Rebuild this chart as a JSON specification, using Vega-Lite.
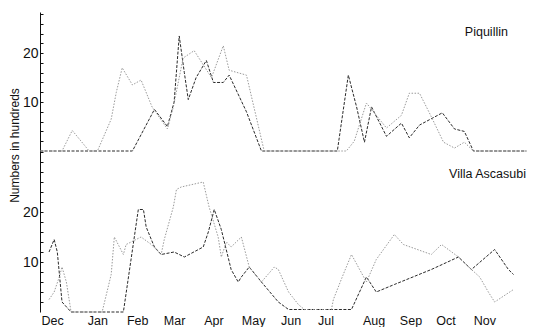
{
  "$schema": "https://vega.github.io/schema/vega-lite/v6.json",
  "padding": {"left": 8, "top": 12, "right": 5, "bottom": 0},
  "spacing": 0,
  "bounds": "flush",
  "background": "white",
  "config": {
    "view": {"stroke": null},
    "font": "Liberation Sans",
    "axis": {"grid": false, "domainColor": "#111", "tickColor": "#111", "labelColor": "#111", "titleColor": "#111", "labelFont": "Liberation Sans", "titleFont": "Liberation Sans"}
  },
  "datasets": {
    "counts": [
      {"site": "Piquillin", "series": "a", "m": -0.31, "v": 0},
      {"site": "Piquillin", "series": "a", "m": 2.04, "v": 0},
      {"site": "Piquillin", "series": "a", "m": 2.6, "v": 8.5},
      {"site": "Piquillin", "series": "a", "m": 2.93, "v": 5},
      {"site": "Piquillin", "series": "a", "m": 3.1, "v": 10},
      {"site": "Piquillin", "series": "a", "m": 3.23, "v": 23.5},
      {"site": "Piquillin", "series": "a", "m": 3.36, "v": 16},
      {"site": "Piquillin", "series": "a", "m": 3.46, "v": 10.5},
      {"site": "Piquillin", "series": "a", "m": 3.66, "v": 15},
      {"site": "Piquillin", "series": "a", "m": 3.92, "v": 18.5},
      {"site": "Piquillin", "series": "a", "m": 4.1, "v": 14},
      {"site": "Piquillin", "series": "a", "m": 4.35, "v": 14},
      {"site": "Piquillin", "series": "a", "m": 4.5, "v": 15.5},
      {"site": "Piquillin", "series": "a", "m": 4.94, "v": 8},
      {"site": "Piquillin", "series": "a", "m": 5.32, "v": 0},
      {"site": "Piquillin", "series": "a", "m": 7.25, "v": 0},
      {"site": "Piquillin", "series": "a", "m": 7.53, "v": 15.5},
      {"site": "Piquillin", "series": "a", "m": 7.74, "v": 9},
      {"site": "Piquillin", "series": "a", "m": 7.94, "v": 1.8},
      {"site": "Piquillin", "series": "a", "m": 8.12, "v": 9},
      {"site": "Piquillin", "series": "a", "m": 8.5, "v": 3},
      {"site": "Piquillin", "series": "a", "m": 8.88, "v": 5.7},
      {"site": "Piquillin", "series": "a", "m": 9.08, "v": 2.7},
      {"site": "Piquillin", "series": "a", "m": 9.34, "v": 5.3},
      {"site": "Piquillin", "series": "a", "m": 9.92, "v": 7.8},
      {"site": "Piquillin", "series": "a", "m": 10.23, "v": 4.5},
      {"site": "Piquillin", "series": "a", "m": 10.48, "v": 4},
      {"site": "Piquillin", "series": "a", "m": 10.71, "v": 0},
      {"site": "Piquillin", "series": "a", "m": 12.06, "v": 0},
      {"site": "Piquillin", "series": "b", "m": -0.31, "v": 0},
      {"site": "Piquillin", "series": "b", "m": 0.25, "v": 0},
      {"site": "Piquillin", "series": "b", "m": 0.51, "v": 4.2},
      {"site": "Piquillin", "series": "b", "m": 0.94, "v": 0},
      {"site": "Piquillin", "series": "b", "m": 1.15, "v": 0},
      {"site": "Piquillin", "series": "b", "m": 1.5, "v": 6.5},
      {"site": "Piquillin", "series": "b", "m": 1.63, "v": 12},
      {"site": "Piquillin", "series": "b", "m": 1.78, "v": 17},
      {"site": "Piquillin", "series": "b", "m": 2.04, "v": 13.5},
      {"site": "Piquillin", "series": "b", "m": 2.26, "v": 14.5},
      {"site": "Piquillin", "series": "b", "m": 2.54, "v": 9},
      {"site": "Piquillin", "series": "b", "m": 2.93, "v": 4.5},
      {"site": "Piquillin", "series": "b", "m": 3.08, "v": 9},
      {"site": "Piquillin", "series": "b", "m": 3.33, "v": 19},
      {"site": "Piquillin", "series": "b", "m": 3.61, "v": 20.5},
      {"site": "Piquillin", "series": "b", "m": 4.05, "v": 15},
      {"site": "Piquillin", "series": "b", "m": 4.35, "v": 21.5},
      {"site": "Piquillin", "series": "b", "m": 4.5, "v": 16.5},
      {"site": "Piquillin", "series": "b", "m": 4.94, "v": 15.5},
      {"site": "Piquillin", "series": "b", "m": 5.39, "v": 0},
      {"site": "Piquillin", "series": "b", "m": 7.48, "v": 0},
      {"site": "Piquillin", "series": "b", "m": 7.68, "v": 2},
      {"site": "Piquillin", "series": "b", "m": 7.99, "v": 9.8},
      {"site": "Piquillin", "series": "b", "m": 8.17, "v": 8},
      {"site": "Piquillin", "series": "b", "m": 8.5, "v": 4.7},
      {"site": "Piquillin", "series": "b", "m": 8.88, "v": 7.3},
      {"site": "Piquillin", "series": "b", "m": 9.08, "v": 11.8},
      {"site": "Piquillin", "series": "b", "m": 9.34, "v": 11.8},
      {"site": "Piquillin", "series": "b", "m": 9.64, "v": 7},
      {"site": "Piquillin", "series": "b", "m": 9.95, "v": 1.8},
      {"site": "Piquillin", "series": "b", "m": 10.23, "v": 0.6},
      {"site": "Piquillin", "series": "b", "m": 10.48, "v": 1.8},
      {"site": "Piquillin", "series": "b", "m": 10.71, "v": 0},
      {"site": "Piquillin", "series": "b", "m": 12.06, "v": 0},
      {"site": "Villa Ascasubi", "series": "a", "m": -0.08, "v": 12},
      {"site": "Villa Ascasubi", "series": "a", "m": 0.05, "v": 14.5},
      {"site": "Villa Ascasubi", "series": "a", "m": 0.13, "v": 12},
      {"site": "Villa Ascasubi", "series": "a", "m": 0.25, "v": 2},
      {"site": "Villa Ascasubi", "series": "a", "m": 0.48, "v": 0},
      {"site": "Villa Ascasubi", "series": "a", "m": 1.81, "v": 0},
      {"site": "Villa Ascasubi", "series": "a", "m": 2.19, "v": 20.5},
      {"site": "Villa Ascasubi", "series": "a", "m": 2.32, "v": 20.5},
      {"site": "Villa Ascasubi", "series": "a", "m": 2.39, "v": 17},
      {"site": "Villa Ascasubi", "series": "a", "m": 2.52, "v": 14.5},
      {"site": "Villa Ascasubi", "series": "a", "m": 2.6, "v": 13},
      {"site": "Villa Ascasubi", "series": "a", "m": 2.77, "v": 11.5},
      {"site": "Villa Ascasubi", "series": "a", "m": 3.1, "v": 12},
      {"site": "Villa Ascasubi", "series": "a", "m": 3.36, "v": 11},
      {"site": "Villa Ascasubi", "series": "a", "m": 3.84, "v": 13},
      {"site": "Villa Ascasubi", "series": "a", "m": 3.97, "v": 16},
      {"site": "Villa Ascasubi", "series": "a", "m": 4.12, "v": 20.5},
      {"site": "Villa Ascasubi", "series": "a", "m": 4.3, "v": 16.5},
      {"site": "Villa Ascasubi", "series": "a", "m": 4.55, "v": 8.5},
      {"site": "Villa Ascasubi", "series": "a", "m": 4.73, "v": 6},
      {"site": "Villa Ascasubi", "series": "a", "m": 4.81, "v": 7},
      {"site": "Villa Ascasubi", "series": "a", "m": 5.01, "v": 9},
      {"site": "Villa Ascasubi", "series": "a", "m": 5.32, "v": 6},
      {"site": "Villa Ascasubi", "series": "a", "m": 5.75, "v": 2},
      {"site": "Villa Ascasubi", "series": "a", "m": 6.01, "v": 0.5},
      {"site": "Villa Ascasubi", "series": "a", "m": 7.61, "v": 0.5},
      {"site": "Villa Ascasubi", "series": "a", "m": 7.99, "v": 7},
      {"site": "Villa Ascasubi", "series": "a", "m": 8.24, "v": 4},
      {"site": "Villa Ascasubi", "series": "a", "m": 8.7, "v": 5.5},
      {"site": "Villa Ascasubi", "series": "a", "m": 9.64, "v": 8.5},
      {"site": "Villa Ascasubi", "series": "a", "m": 10.33, "v": 11},
      {"site": "Villa Ascasubi", "series": "a", "m": 10.66, "v": 8.5},
      {"site": "Villa Ascasubi", "series": "a", "m": 11.25, "v": 12.5},
      {"site": "Villa Ascasubi", "series": "a", "m": 11.6, "v": 8.5},
      {"site": "Villa Ascasubi", "series": "a", "m": 11.73, "v": 7.5},
      {"site": "Villa Ascasubi", "series": "b", "m": -0.08, "v": 2.5},
      {"site": "Villa Ascasubi", "series": "b", "m": 0.05, "v": 4},
      {"site": "Villa Ascasubi", "series": "b", "m": 0.18, "v": 7},
      {"site": "Villa Ascasubi", "series": "b", "m": 0.25, "v": 9},
      {"site": "Villa Ascasubi", "series": "b", "m": 0.36, "v": 6},
      {"site": "Villa Ascasubi", "series": "b", "m": 0.48, "v": 0},
      {"site": "Villa Ascasubi", "series": "b", "m": 1.27, "v": 0},
      {"site": "Villa Ascasubi", "series": "b", "m": 1.5, "v": 7.5},
      {"site": "Villa Ascasubi", "series": "b", "m": 1.58, "v": 15},
      {"site": "Villa Ascasubi", "series": "b", "m": 1.81, "v": 11.5},
      {"site": "Villa Ascasubi", "series": "b", "m": 1.88, "v": 13.5},
      {"site": "Villa Ascasubi", "series": "b", "m": 2.26, "v": 15},
      {"site": "Villa Ascasubi", "series": "b", "m": 2.52, "v": 13.5},
      {"site": "Villa Ascasubi", "series": "b", "m": 2.77, "v": 11.5},
      {"site": "Villa Ascasubi", "series": "b", "m": 2.85, "v": 14.5},
      {"site": "Villa Ascasubi", "series": "b", "m": 3.08, "v": 21},
      {"site": "Villa Ascasubi", "series": "b", "m": 3.16, "v": 24.5},
      {"site": "Villa Ascasubi", "series": "b", "m": 3.28, "v": 25},
      {"site": "Villa Ascasubi", "series": "b", "m": 3.84, "v": 26},
      {"site": "Villa Ascasubi", "series": "b", "m": 3.99, "v": 21},
      {"site": "Villa Ascasubi", "series": "b", "m": 4.22, "v": 15},
      {"site": "Villa Ascasubi", "series": "b", "m": 4.3, "v": 11},
      {"site": "Villa Ascasubi", "series": "b", "m": 4.43, "v": 14},
      {"site": "Villa Ascasubi", "series": "b", "m": 4.55, "v": 13},
      {"site": "Villa Ascasubi", "series": "b", "m": 4.81, "v": 15},
      {"site": "Villa Ascasubi", "series": "b", "m": 5.01, "v": 9},
      {"site": "Villa Ascasubi", "series": "b", "m": 5.32, "v": 6},
      {"site": "Villa Ascasubi", "series": "b", "m": 5.65, "v": 9},
      {"site": "Villa Ascasubi", "series": "b", "m": 5.75, "v": 8.5},
      {"site": "Villa Ascasubi", "series": "b", "m": 6.01, "v": 4},
      {"site": "Villa Ascasubi", "series": "b", "m": 6.26, "v": 1.5},
      {"site": "Villa Ascasubi", "series": "b", "m": 6.41, "v": 0.5},
      {"site": "Villa Ascasubi", "series": "b", "m": 7.1, "v": 0.5},
      {"site": "Villa Ascasubi", "series": "b", "m": 7.15, "v": 2.5},
      {"site": "Villa Ascasubi", "series": "b", "m": 7.4, "v": 7.5},
      {"site": "Villa Ascasubi", "series": "b", "m": 7.61, "v": 11.5},
      {"site": "Villa Ascasubi", "series": "b", "m": 7.99, "v": 6},
      {"site": "Villa Ascasubi", "series": "b", "m": 8.24, "v": 10.5},
      {"site": "Villa Ascasubi", "series": "b", "m": 8.7, "v": 15.5},
      {"site": "Villa Ascasubi", "series": "b", "m": 8.93, "v": 13.5},
      {"site": "Villa Ascasubi", "series": "b", "m": 9.64, "v": 11.5},
      {"site": "Villa Ascasubi", "series": "b", "m": 9.9, "v": 13.5},
      {"site": "Villa Ascasubi", "series": "b", "m": 10.33, "v": 11},
      {"site": "Villa Ascasubi", "series": "b", "m": 10.66, "v": 8.5},
      {"site": "Villa Ascasubi", "series": "b", "m": 10.87, "v": 7},
      {"site": "Villa Ascasubi", "series": "b", "m": 11.09, "v": 4},
      {"site": "Villa Ascasubi", "series": "b", "m": 11.25, "v": 2},
      {"site": "Villa Ascasubi", "series": "b", "m": 11.73, "v": 4.5}
    ]
  },
  "vconcat": [
    {
      "width": 492,
      "height": 139,
      "layer": [
        {
          "data": {"name": "counts"},
          "transform": [{"filter": "datum.site == 'Piquillin'"}],
          "mark": {"type": "line", "strokeWidth": 1},
          "encoding": {
            "x": {"field": "m", "type": "quantitative", "scale": {"domain": [-0.31, 12.2], "nice": false, "zero": false}, "axis": null},
            "y": {"field": "v", "type": "quantitative", "scale": {"domain": [0, 28.4], "nice": false},
              "axis": {"values": [2,4,6,8,10,12,14,16,18,20,22,24,26,28], "labelExpr": "abs(datum.value - 10) < 0.5 ? '10' : (abs(datum.value - 20) < 0.5 ? '20' : '')", "labelFontSize": {"condition": {"test": "abs(datum.value - 10) < 0.5 || abs(datum.value - 20) < 0.5", "value": 14}, "value": 0.1}, "tickSize": -3, "labelPadding": 5, "title": "Numbers in hundreds", "titleFontSize": 12, "titleFontWeight": "normal", "titleX": -19, "titleY": 133, "labelOverlap": false, "labelBound": false}},
            "color": {"field": "series", "type": "nominal", "scale": {"domain": ["a", "b"], "range": ["#2a2a2a", "#9a9a9a"]}, "legend": null},
            "strokeDash": {"field": "series", "type": "nominal", "scale": {"domain": ["a", "b"], "range": [[3, 1.5], [1.5, 1.5]]}, "legend": null}
          }
        },
        {
          "data": {"values": [{}]},
          "mark": {"type": "text", "fontSize": 12.5, "font": "Liberation Sans", "color": "#111"},
          "encoding": {
            "x": {"datum": 11.04, "type": "quantitative", "axis": null},
            "y": {"datum": 24.3, "type": "quantitative", "axis": {"values": [2,4,6,8,10,12,14,16,18,20,22,24,26,28], "labelExpr": "abs(datum.value - 10) < 0.5 ? '10' : (abs(datum.value - 20) < 0.5 ? '20' : '')", "labelFontSize": {"condition": {"test": "abs(datum.value - 10) < 0.5 || abs(datum.value - 20) < 0.5", "value": 14}, "value": 0.1}, "labelOverlap": false}},
            "text": {"value": "Piquillin"}
          }
        }
      ]
    },
    {
      "width": 492,
      "height": 161,
      "layer": [
        {
          "data": {"name": "counts"},
          "transform": [{"filter": "datum.site == 'Villa Ascasubi'"}],
          "mark": {"type": "line", "strokeWidth": 1},
          "encoding": {
            "x": {"field": "m", "type": "quantitative", "scale": {"domain": [-0.31, 12.2], "nice": false, "zero": false},
              "axis": {"values": [0, 1.15, 2.16, 3.1, 4.1, 5.11, 6.06, 6.95, 8.17, 9.11, 10, 10.99], "labelExpr": "['Dec','Jan','Feb','Mar','Apr','May','Jun','Jul','Aug','Sep','Oct','Nov'][round(datum.value)]", "domain": false, "ticks": false, "labelFontSize": 12.5, "labelPadding": 2, "labelFlush": false, "labelOverlap": false, "title": null}},
            "y": {"field": "v", "type": "quantitative", "scale": {"domain": [0, 32.2], "nice": false},
              "axis": {"values": [2,4,6,8,10,12,14,16,18,20,22,24,26,28,30,32], "labelExpr": "abs(datum.value - 10) < 0.5 ? '10' : (abs(datum.value - 20) < 0.5 ? '20' : '')", "labelFontSize": {"condition": {"test": "abs(datum.value - 10) < 0.5 || abs(datum.value - 20) < 0.5", "value": 14}, "value": 0.1}, "tickSize": -3, "labelPadding": 5, "title": null, "labelOverlap": false, "labelBound": false}},
            "color": {"field": "series", "type": "nominal", "scale": {"domain": ["a", "b"], "range": ["#2a2a2a", "#9a9a9a"]}, "legend": null},
            "strokeDash": {"field": "series", "type": "nominal", "scale": {"domain": ["a", "b"], "range": [[3, 1.5], [1.5, 1.5]]}, "legend": null}
          }
        },
        {
          "data": {"values": [{}]},
          "mark": {"type": "text", "fontSize": 12.5, "font": "Liberation Sans", "color": "#111"},
          "encoding": {
            "x": {"datum": 11.07, "type": "quantitative", "axis": {"values": [0, 1.15, 2.16, 3.1, 4.1, 5.11, 6.06, 6.95, 8.17, 9.11, 10, 10.99], "labelExpr": "['Dec','Jan','Feb','Mar','Apr','May','Jun','Jul','Aug','Sep','Oct','Nov'][round(datum.value)]", "labelOverlap": false, "labelFlush": false}},
            "y": {"datum": 27.7, "type": "quantitative", "axis": {"values": [2,4,6,8,10,12,14,16,18,20,22,24,26,28,30,32], "labelExpr": "abs(datum.value - 10) < 0.5 ? '10' : (abs(datum.value - 20) < 0.5 ? '20' : '')", "labelFontSize": {"condition": {"test": "abs(datum.value - 10) < 0.5 || abs(datum.value - 20) < 0.5", "value": 14}, "value": 0.1}, "labelOverlap": false}},
            "text": {"value": "Villa Ascasubi"}
          }
        }
      ]
    }
  ]
}
